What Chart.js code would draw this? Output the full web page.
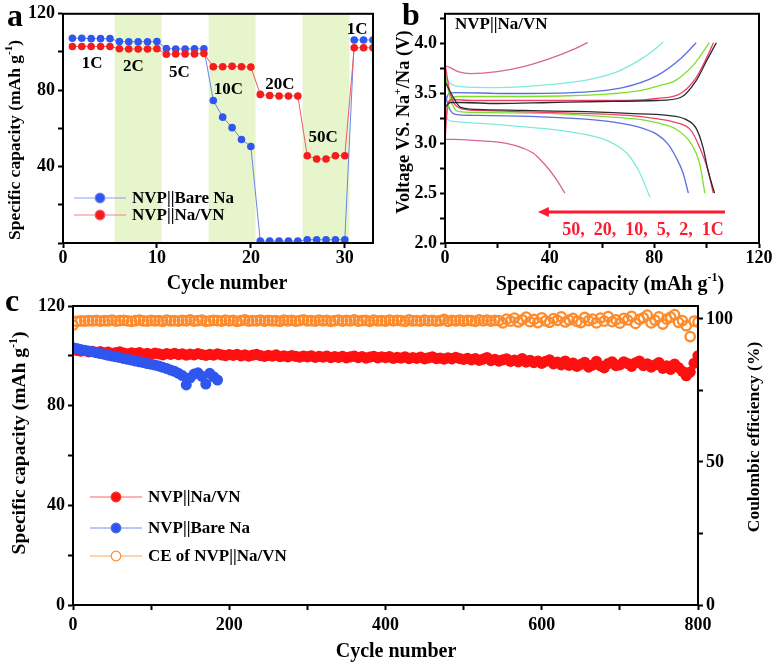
<!DOCTYPE html>
<html>
<head>
<meta charset="utf-8">
<script src="https://cdn.jsdelivr.net/npm/chart.js@4.4.0/dist/chart.umd.min.js"></script>
<style>
  html, body { margin: 0; padding: 0; background: #fff; }
  #wrap { position: relative; width: 777px; height: 662px; overflow: hidden; }
  canvas { position: absolute; }
  #chart-a { left: 0; top: 0; }
  #chart-b { left: 380px; top: 0; }
  #chart-c { left: 0; top: 290px; }
</style>
</head>
<body>
<div id="wrap">
  <canvas id="chart-a" width="380" height="300"></canvas>
  <canvas id="chart-b" width="397" height="300"></canvas>
  <canvas id="chart-c" width="777" height="372"></canvas>
</div>
<script>
// ---- panel a: rate performance ----
const rateCycles = [1, 2, 3, 4, 5, 6, 7, 8, 9, 10, 11, 12, 13, 14, 15, 16, 17, 18, 19, 20,
  21, 22, 23, 24, 25, 26, 27, 28, 29, 30, 31, 32, 33];
const bareNaRate = [107.2, 107.2, 107, 107, 107, 105.5, 105.4, 105.4, 105.4, 105.5,
  101.8, 101.6, 101.6, 101.7, 101.7, 74.6, 65.9, 60.4, 54.2, 50.5,
  1, 1, 1, 1, 1, 1.7, 1.7, 1.7, 1.7, 1.7, 106.3, 106.3, 106.3];
const naVNRate = [102.9, 102.9, 102.9, 102.9, 102.9, 101.7, 101.6, 101.6, 101.6, 101.7,
  98.8, 99, 99, 99, 99.2, 92.3, 92.3, 92.5, 92.3, 92.1,
  77.8, 77.2, 77, 77, 77, 45.7, 44, 44, 45.7, 45.7, 102.2, 102.2, 102.2];
const rateBands = [[5.5, 10.5], [15.5, 20.5], [25.5, 30.5]];
const rateLabels = ["1C", "2C", "5C", "10C", "20C", "50C", "1C"];
const rateLabelAt = [[3.1, 94], [7.5, 92.3], [12.4, 89.2], [17.6, 80.4], [23.1, 82.9], [27.7, 55.3], [31.3, 111.7]];
const aXTicks = [0, 10, 20, 30];
const aYTicks = [0, 20, 40, 60, 80, 100, 120];

// ---- panel b: charge / discharge profiles (capacity mAh/g, voltage V) ----
const ch1Ccap = [0, 2, 6, 20, 40, 60, 81, 90, 96, 100, 103.7];
const ch1Cv = [3.36, 3.41, 3.41, 3.40, 3.41, 3.42, 3.43, 3.46, 3.63, 3.83, 4.01];
const dc1Ccap = [0, 3, 6, 12, 30, 50, 70, 85, 92, 96, 98.6, 100.5, 103];
const dc1Cv = [3.62, 3.47, 3.36, 3.34, 3.33, 3.32, 3.30, 3.28, 3.24, 3.15, 2.96, 2.73, 2.50];
const ch2Ccap = [0, 1, 3, 10, 40, 70, 81, 90, 96, 100, 102.6];
const ch2Cv = [3.00, 3.40, 3.44, 3.43, 3.43, 3.43, 3.45, 3.50, 3.66, 3.86, 4.01];
const dc2Ccap = [0, 2, 6, 12, 40, 70, 80, 88, 94, 97.3, 100.5, 102.5];
const dc2Cv = [3.80, 3.50, 3.35, 3.33, 3.31, 3.28, 3.25, 3.21, 3.13, 2.96, 2.73, 2.50];
const ch5Ccap = [0, 2, 5, 20, 50, 74.5, 82, 88, 95.4, 101];
const ch5Cv = [3.20, 3.44, 3.47, 3.47, 3.48, 3.53, 3.58, 3.63, 3.80, 4.01];
const dc5Ccap = [0, 2, 5, 12, 40, 60, 74.5, 82, 87.8, 94, 97.3, 99.3];
const dc5Cv = [3.72, 3.45, 3.32, 3.31, 3.30, 3.27, 3.24, 3.20, 3.15, 3.00, 2.80, 2.50];
const ch10Ccap = [0, 1.5, 4, 23.5, 49, 68, 81, 90, 96];
const ch10Cv = [3.40, 3.50, 3.51, 3.50, 3.51, 3.56, 3.68, 3.85, 4.01];
const dc10Ccap = [0, 1.5, 4, 12, 49, 65, 74.5, 81, 85, 88.5, 91, 93];
const dc10Cv = [3.50, 3.36, 3.29, 3.28, 3.25, 3.21, 3.16, 3.09, 3.00, 2.85, 2.70, 2.50];
const ch20Ccap = [0, 2, 6, 20, 40, 55, 65, 74, 80, 83.4];
const ch20Cv = [3.68, 3.60, 3.57, 3.56, 3.59, 3.64, 3.71, 3.83, 3.94, 4.02];
const dc20Ccap = [0, 1, 3, 23.5, 49, 61.8, 69.5, 74.5, 78.3];
const dc20Cv = [3.38, 3.24, 3.22, 3.18, 3.11, 3.03, 2.90, 2.70, 2.46];
const ch50Ccap = [0, 2, 5, 10, 20, 30, 40, 48, 54.5];
const ch50Cv = [3.78, 3.76, 3.72, 3.70, 3.72, 3.77, 3.85, 3.93, 4.01];
const dc50Ccap = [0, 3, 11, 23.5, 30, 33.8, 37, 40, 43, 45.8];
const dc50Cv = [3.04, 3.04, 3.03, 3.00, 2.95, 2.90, 2.82, 2.73, 2.62, 2.50];
const bXTicks = [0, 20, 40, 60, 80, 100, 120];
const bYTicks = [2.0, 2.25, 2.5, 2.75, 3.0, 3.25, 3.5, 3.75, 4.0, 4.25];

// ---- panel c: long cycling, one value every 5 cycles from cycle 0 ----
const CYCLE_STEP = 5;
const naVNCycling = [
  102.4, 102.2, 101.9, 102.1, 101.6, 101.8, 101.4, 101.7, 101.2, 101.5, 101.0, 101.3, 101.6, 101.1, 100.8, 101.2, 100.9, 101.3, 100.7, 101.0,
  100.6, 101.1, 100.8, 100.4, 100.9, 100.6, 101.0, 100.5, 100.8, 100.3, 100.7, 100.4, 100.9, 100.5, 100.2, 100.6, 100.3, 100.8, 100.4, 100.1,
  100.5, 100.2, 100.6, 100.0, 100.4, 99.9, 100.3, 100.6, 100.1, 99.8, 100.2, 99.9, 100.4, 99.7, 100.0, 99.6, 100.1, 99.8, 99.5, 99.9,
  99.6, 100.0, 99.4, 99.8, 99.5, 99.9, 99.3, 99.7, 99.4, 99.8, 99.2, 99.6, 99.9, 99.3, 99.7, 99.1, 99.5, 99.8, 99.2, 99.6,
  99.3, 99.7, 99.0, 99.4, 99.1, 99.6, 98.9, 99.3, 99.0, 99.5, 98.8, 99.2, 99.6, 98.9, 99.1, 98.7, 99.2, 98.8, 99.4, 98.9,
  98.6, 99.0, 98.4, 98.9, 98.2, 98.7, 99.3, 98.1, 98.6, 97.9, 98.4, 98.8, 97.8, 98.3, 97.6, 98.9, 97.5, 98.2, 97.3, 97.9,
  97.0, 97.8, 98.4, 96.8, 97.5, 96.4, 97.9, 96.2, 97.1, 95.8, 96.6, 97.4, 95.5, 96.3, 97.8, 96.0, 95.2, 96.9, 97.6, 96.1,
  96.4, 97.6, 96.9, 95.8, 97.2, 97.9, 96.1, 96.8, 95.5, 96.4, 97.3, 95.0, 96.0, 94.6, 96.7, 95.3, 93.8, 92.0, 93.5, 97.0,
  100.0];
const bareNaCycling = [
  103.2, 102.9, 102.5, 102.2, 101.9, 101.6, 101.2, 100.9, 100.6, 100.2, 99.9, 99.6, 99.3, 98.9, 98.6, 98.3, 97.9, 97.6, 97.3, 96.9,
  96.6, 96.3, 95.9, 95.4, 94.9, 94.3, 93.8, 93.0, 92.1, 88.3, 91.2, 92.7, 93.2, 91.8, 88.7, 93.0, 91.6, 90.3];
const ceCycling = [
  97.8, 99.1, 99.3, 99.2, 99.4, 99.3, 99.5, 99.2, 99.4, 99.3, 99.6, 99.2, 99.4, 99.5, 99.3, 99.1, 99.4, 99.6, 99.3, 99.2,
  99.5, 99.3, 99.4, 99.1, 99.6, 99.3, 99.4, 99.2, 99.5, 99.3, 99.7, 99.2, 99.4, 99.6, 99.1, 99.3, 99.5, 99.4, 99.2, 99.6,
  99.3, 99.5, 99.1, 99.4, 99.7, 99.2, 99.4, 99.3, 99.6, 99.2, 99.5, 99.3, 99.4, 99.1, 99.6, 99.3, 99.5, 99.2, 99.4, 99.7,
  99.3, 99.4, 99.2, 99.6, 99.3, 99.5, 99.1, 99.4, 99.6, 99.2, 99.5, 99.3, 99.7, 99.2, 99.4, 99.5, 99.1, 99.6, 99.3, 99.4,
  99.2, 99.6, 99.3, 99.5, 99.4, 99.1, 99.7, 99.3, 99.4, 99.2, 99.6, 99.3, 99.5, 99.2, 99.4, 99.8, 99.1, 99.5, 99.3, 99.6,
  99.2, 99.5, 99.4, 99.1, 99.7, 99.3, 99.6, 99.2, 99.5, 99.4, 98.6, 99.9, 99.2, 100.3, 98.9, 99.7, 100.6, 99.0, 99.8, 98.7,
  100.4, 99.3, 98.8, 100.1, 99.5, 100.7, 98.9, 99.6, 100.2, 99.1, 98.7, 100.5, 99.4, 99.9, 98.6, 100.3, 99.2, 100.8, 99.0, 99.7,
  98.5, 100.2, 99.6, 100.9, 98.4, 99.8, 100.4, 101.3, 98.6, 99.5, 100.7, 98.2, 99.9, 100.6, 101.5, 98.8, 99.4, 97.6, 93.8, 99.2,
  98.9];
const cXTicks = [0, 100, 200, 300, 400, 500, 600, 700, 800];
const cYTicks = [0, 20, 40, 60, 80, 100, 120];
const cY2Ticks = [0, 25, 50, 75, 100];

const FONT = "'Liberation Serif', 'Times New Roman', serif";
const BLUE = "#2f56ee";
const RED = "#f51c1c";
const ORANGE = "#ff8a2a";

function boldFont(size) {
  return { family: FONT, size: size, weight: "bold" };
}

function pairs(xs, ys) {
  return xs.map((x, i) => ({ x: x, y: ys[i] }));
}

function stepped(values) {
  return values.map((v, i) => ({ x: i * CYCLE_STEP, y: v }));
}

// linear axis with a fixed list of tick values; labels only where showLabel says so
function axis(min, max, tickValues, showLabel, fmt, pad, extra) {
  return Object.assign({
    type: "linear",
    min: min,
    max: max,
    afterBuildTicks: (s) => { s.ticks = tickValues.map((v) => ({ value: v })); },
    ticks: {
      font: boldFont(18),
      color: "#000",
      padding: pad,
      autoSkip: false,
      maxRotation: 0,
      callback: (v) => (showLabel(v) ? (fmt ? fmt(v) : v) : ""),
    },
    grid: { drawOnChartArea: false, tickLength: 5, tickColor: "#000", tickWidth: 2 },
    border: { color: "#000", width: 2 },
  }, extra);
}

// centred text with optional superscript parts
function drawRich(ctx, parts, x, y, size, rot, color) {
  ctx.save();
  ctx.translate(x, y);
  if (rot) ctx.rotate(rot);
  ctx.fillStyle = color || "#000";
  ctx.textBaseline = "alphabetic";
  const main = `bold ${size}px ${FONT}`;
  const sup = `bold ${Math.round(size * 0.62)}px ${FONT}`;
  let total = 0;
  parts.forEach((p) => { ctx.font = p.sup ? sup : main; total += ctx.measureText(p.t).width; });
  let cx = -total / 2;
  const base = size * 0.33;
  parts.forEach((p) => {
    ctx.font = p.sup ? sup : main;
    ctx.fillText(p.t, cx, p.sup ? base - size * 0.42 : base);
    cx += ctx.measureText(p.t).width;
  });
  ctx.restore();
}

function drawFrame(chart) {
  const { ctx, chartArea: a } = chart;
  ctx.save();
  ctx.strokeStyle = "#000";
  ctx.lineWidth = 2;
  ctx.strokeRect(a.left, a.top, a.right - a.left, a.bottom - a.top);
  ctx.restore();
}

function legendRow(ctx, x, y, color, fill, text) {
  ctx.save();
  ctx.strokeStyle = color;
  ctx.globalAlpha = 0.75;
  ctx.lineWidth = 1;
  ctx.beginPath();
  ctx.moveTo(x, y);
  ctx.lineTo(x + 52, y);
  ctx.stroke();
  ctx.globalAlpha = 1;
  ctx.beginPath();
  ctx.arc(x + 26, y, 4.8, 0, Math.PI * 2);
  ctx.fillStyle = fill;
  ctx.fill();
  ctx.lineWidth = 1.2;
  ctx.stroke();
  ctx.fillStyle = "#000";
  ctx.font = `bold 17px ${FONT}`;
  ctx.textBaseline = "middle";
  ctx.fillText(text, x + 58, y + 1);
  ctx.restore();
}

const baseOptions = {
  responsive: false,
  animation: false,
  devicePixelRatio: 1,
  plugins: { legend: { display: false }, tooltip: { enabled: false } },
};

// ---------- chart a ----------
new Chart(document.getElementById("chart-a"), {
  type: "scatter",
  data: {
    datasets: [
      {
        data: pairs(rateCycles, bareNaRate), showLine: true, order: 1,
        borderColor: "#6b83ee", borderWidth: 1,
        pointRadius: 3.8, pointBackgroundColor: BLUE, pointBorderColor: BLUE, pointBorderWidth: 0,
      },
      {
        data: pairs(rateCycles, naVNRate), showLine: true, order: 0,
        borderColor: "#ef5a6a", borderWidth: 1,
        pointRadius: 3.8, pointBackgroundColor: RED, pointBorderColor: RED, pointBorderWidth: 0,
      },
    ],
  },
  options: Object.assign({}, baseOptions, {
    layout: { padding: { left: 0, top: 13, right: 7, bottom: 0 } },
    scales: {
      x: axis(0, 33, aXTicks, () => true, null, 0, { afterFit: (s) => { s.height = 57; } }),
      y: axis(0, 120, aYTicks, (v) => v > 0 && v % 40 === 0, null, 3, { afterFit: (s) => { s.width = 63; } }),
    },
  }),
  plugins: [{
    id: "panelA",
    beforeDatasetsDraw(chart) {
      const { ctx, chartArea: a, scales } = chart;
      ctx.save();
      ctx.fillStyle = "#e7f5cd";
      rateBands.forEach(([s, e]) => {
        const x0 = scales.x.getPixelForValue(s);
        const x1 = scales.x.getPixelForValue(e);
        ctx.fillRect(x0, a.top, x1 - x0, a.bottom - a.top);
      });
      ctx.restore();
    },
    afterDatasetsDraw(chart) {
      const { ctx, scales } = chart;
      drawFrame(chart);
      ctx.save();
      ctx.fillStyle = "#000";
      ctx.font = `bold 17px ${FONT}`;
      ctx.textAlign = "center";
      ctx.textBaseline = "middle";
      rateLabels.forEach((t, i) => {
        ctx.fillText(t, scales.x.getPixelForValue(rateLabelAt[i][0]), scales.y.getPixelForValue(rateLabelAt[i][1]));
      });
      ctx.restore();
      legendRow(ctx, 74, 198, "#6b83ee", BLUE, "NVP||Bare Na");
      legendRow(ctx, 74, 215, "#ef5a6a", RED, "NVP||Na/VN");
      drawRich(ctx, [{ t: "Specific capacity (mAh g" }, { t: "-1", sup: true }, { t: ")" }], 14, 140, 17.5, -Math.PI / 2);
      drawRich(ctx, [{ t: "Cycle number" }], 227, 282, 20, 0);
      drawRich(ctx, [{ t: "a" }], 15, 15, 32, 0);
    },
  }],
});

// ---------- chart b ----------
const profileColors = ["#2b2b2b", "#f0406a", "#7ee02a", "#5b6ee0", "#7eeadb", "#d8649c"];
const profiles = [
  [ch1Ccap, ch1Cv, dc1Ccap, dc1Cv],
  [ch2Ccap, ch2Cv, dc2Ccap, dc2Cv],
  [ch5Ccap, ch5Cv, dc5Ccap, dc5Cv],
  [ch10Ccap, ch10Cv, dc10Ccap, dc10Cv],
  [ch20Ccap, ch20Cv, dc20Ccap, dc20Cv],
  [ch50Ccap, ch50Cv, dc50Ccap, dc50Cv],
];
const profileSets = [];
profiles.forEach((p, i) => {
  [[p[0], p[1]], [p[2], p[3]]].forEach(([xs, ys]) => {
    profileSets.push({
      data: pairs(xs, ys), showLine: true, pointRadius: 0,
      borderColor: profileColors[i], borderWidth: 1.3, cubicInterpolationMode: "monotone",
    });
  });
});

new Chart(document.getElementById("chart-b"), {
  type: "scatter",
  data: { datasets: profileSets },
  options: Object.assign({}, baseOptions, {
    layout: { padding: { left: 0, top: 13, right: 18, bottom: 0 } },
    scales: {
      x: axis(0, 120, bXTicks, (v) => v % 40 === 0, null, 0, { afterFit: (s) => { s.height = 57; } }),
      y: axis(2.0, 4.3, bYTicks, (v) => Math.abs(v * 2 - Math.round(v * 2)) < 1e-6, (v) => v.toFixed(1), 3,
        { afterFit: (s) => { s.width = 65; } }),
    },
  }),
  plugins: [{
    id: "panelB",
    afterDatasetsDraw(chart) {
      const { ctx, chartArea: a, scales } = chart;
      drawFrame(chart);
      // rate arrow
      const y = scales.y.getPixelForValue(2.31);
      const x0 = scales.x.getPixelForValue(107);
      const x1 = scales.x.getPixelForValue(35.5);
      ctx.save();
      ctx.strokeStyle = "#ff1a30";
      ctx.fillStyle = "#ff1a30";
      ctx.lineWidth = 3;
      ctx.beginPath();
      ctx.moveTo(x0, y);
      ctx.lineTo(x1 + 8, y);
      ctx.stroke();
      ctx.beginPath();
      ctx.moveTo(x1, y);
      ctx.lineTo(x1 + 11, y - 5);
      ctx.lineTo(x1 + 11, y + 5);
      ctx.closePath();
      ctx.fill();
      ctx.restore();
      drawRich(ctx, [{ t: "50,  20,  10,  5,  2,  1C" }], scales.x.getPixelForValue(75.7), scales.y.getPixelForValue(2.14), 18, 0, "#ff1a30");
      ctx.save();
      ctx.fillStyle = "#000";
      ctx.font = `bold 17px ${FONT}`;
      ctx.textBaseline = "middle";
      ctx.fillText("NVP||Na/VN", a.left + 10, a.top + 11);
      ctx.restore();
      drawRich(ctx, [{ t: "Voltage VS. Na" }, { t: "+", sup: true }, { t: "/Na (V)" }], 23, 122, 18.5, -Math.PI / 2);
      drawRich(ctx, [{ t: "Specific capacity (mAh g" }, { t: "-1", sup: true }, { t: ")" }], 230, 283, 20, 0);
      drawRich(ctx, [{ t: "b" }], 31, 14, 32, 0);
    },
  }],
});

// ---------- chart c ----------
new Chart(document.getElementById("chart-c"), {
  type: "scatter",
  data: {
    datasets: [
      {
        data: stepped(bareNaCycling), yAxisID: "y", order: 0,
        pointRadius: 5.5, pointBackgroundColor: BLUE, pointBorderColor: BLUE, pointBorderWidth: 0,
      },
      {
        data: stepped(naVNCycling), yAxisID: "y", order: 1,
        pointRadius: 5.6, pointBackgroundColor: "#ff1010", pointBorderColor: "#ff1010", pointBorderWidth: 0,
      },
      {
        data: stepped(ceCycling), yAxisID: "y2", order: 2,
        pointRadius: 4.7, pointBackgroundColor: "rgba(255,255,255,0)", pointBorderColor: ORANGE, pointBorderWidth: 2.3,
      },
    ],
  },
  options: Object.assign({}, baseOptions, {
    layout: { padding: { left: 0, top: 16, right: 0, bottom: 0 } },
    scales: {
      x: axis(0, 800, cXTicks, (v) => v % 200 === 0, null, 5, { afterFit: (s) => { s.height = 57; } }),
      y: axis(0, 120, cYTicks, (v) => v % 40 === 0, null, 3, { position: "left", afterFit: (s) => { s.width = 73; } }),
      y2: axis(0, 104.5, cY2Ticks, (v) => v % 50 === 0, null, 3, { position: "right", afterFit: (s) => { s.width = 79; } }),
    },
  }),
  plugins: [{
    id: "panelC",
    afterDatasetsDraw(chart) {
      const { ctx } = chart;
      drawFrame(chart);
      legendRow(ctx, 90, 207, "#ff3030", "#ff1010", "NVP||Na/VN");
      legendRow(ctx, 90, 238, "#4a66ee", BLUE, "NVP||Bare Na");
      legendRow(ctx, 90, 266, ORANGE, "#fff", "CE of NVP||Na/VN");
      drawRich(ctx, [{ t: "Specific capacity (mAh g" }, { t: "-1", sup: true }, { t: ")" }], 19, 153, 19.5, -Math.PI / 2);
      drawRich(ctx, [{ t: "Coulombic efficiency (%)" }], 753, 147, 17.5, -Math.PI / 2);
      drawRich(ctx, [{ t: "Cycle number" }], 396, 360, 20, 0);
      drawRich(ctx, [{ t: "c" }], 12, 10, 32, 0);
    },
  }],
});
</script>
</body>
</html>
